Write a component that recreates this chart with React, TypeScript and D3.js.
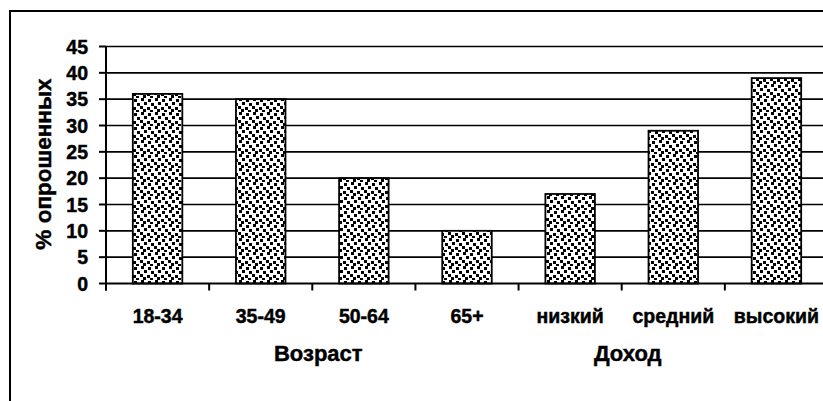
import React from "react";
import * as d3 from "d3";

// categories and % of respondents
const categories = ["18-34", "35-49", "50-64", "65+", "низкий", "средний", "высокий"];
const values = [36, 35, 20, 10, 17, 29, 39];
const groups = [
  { label: "Возраст", at: "50-64" },
  { label: "Доход", at: "средний" },
];
const yTicks = [0, 5, 10, 15, 20, 25, 30, 35, 40, 45];

const W = 823;
const H = 401;
const FONT = "Arial, 'Liberation Sans', sans-serif";

// confetti squares in a 14x14 tile
const dots = [
  [1, 0], [8, 1], [4, 4], [11, 5], [0, 8], [7, 9], [3, 11], [10, 12],
];

export default function App() {
  const x = d3
    .scaleBand<string>()
    .domain(categories)
    .range([106, 828])
    .paddingInner(0.52)
    .paddingOuter(0.26);
  const y = d3.scaleLinear().domain([0, 45]).range([283.5, 46.5]);

  const step = x.step();
  const gap = (step - x.bandwidth()) / 2;
  // boundaries between the categories (tick marks on the x axis)
  const bounds = categories.map((c) => (x(c) as number) - gap);
  const left = x.range()[0];
  const right = x.range()[1];

  // heavy bold text like the original
  const txt = { fontWeight: "bold", stroke: "#000", strokeWidth: 0.45 } as const;

  return (
    <svg
      width={W}
      height={H}
      style={{ position: "absolute", left: 0, top: 0, background: "#fff" }}
      fontFamily={FONT}
    >
      <defs>
        <pattern id="confetti" width={14} height={14} patternUnits="userSpaceOnUse">
          <rect width={14} height={14} fill="#fff" />
          {dots.map(([dx, dy], i) => (
            <rect key={i} x={dx} y={dy} width={3} height={3} fill="#000" />
          ))}
        </pattern>
      </defs>

      {/* outer frame */}
      <rect x={10} y={11} width={W + 20} height={H + 20} fill="none" stroke="#000" strokeWidth={2} />

      {/* gridlines */}
      {yTicks
        .filter((t) => t > 0)
        .map((t) => (
          <line key={t} x1={left} x2={right} y1={y(t)} y2={y(t)} stroke="#000" strokeWidth={1.6} />
        ))}

      {/* bars */}
      {categories.map((c, i) => (
        <rect
          key={c}
          x={x(c)}
          y={y(values[i])}
          width={x.bandwidth()}
          height={y(0) - y(values[i])}
          fill="url(#confetti)"
          stroke="#000"
          strokeWidth={1.8}
        />
      ))}

      {/* y axis */}
      <line x1={left} x2={left} y1={y(45)} y2={y(0) + 7} stroke="#000" strokeWidth={2} />
      {yTicks.map((t) => (
        <g key={t}>
          <line x1={left - 7} x2={left} y1={y(t)} y2={y(t)} stroke="#000" strokeWidth={2} />
          <text x={88} y={y(t)} dy="0.36em" textAnchor="end" fontSize={19.5} {...txt}>
            {t}
          </text>
        </g>
      ))}

      {/* x axis */}
      <line x1={left} x2={right} y1={y(0)} y2={y(0)} stroke="#000" strokeWidth={2} />
      {bounds.map((b, i) => (
        <line key={i} x1={b} x2={b} y1={y(0)} y2={y(0) + 7} stroke="#000" strokeWidth={2} />
      ))}
      {categories.map((c) => (
        <text
          key={c}
          x={(x(c) as number) + x.bandwidth() / 2}
          y={323}
          textAnchor="middle"
          fontSize={19.5}
          {...txt}
        >
          {c}
        </text>
      ))}

      {/* group labels */}
      {groups.map((g) => (
        <text
          key={g.label}
          x={(x(g.at) as number) - gap + 6}
          y={361}
          textAnchor="middle"
          fontSize={22}
          {...txt}
        >
          {g.label}
        </text>
      ))}

      {/* y axis title */}
      <text
        transform={`translate(51,164) rotate(-90)`}
        textAnchor="middle"
        fontSize={22.5}
        {...txt}
      >
        % опрошенных
      </text>
    </svg>
  );
}
